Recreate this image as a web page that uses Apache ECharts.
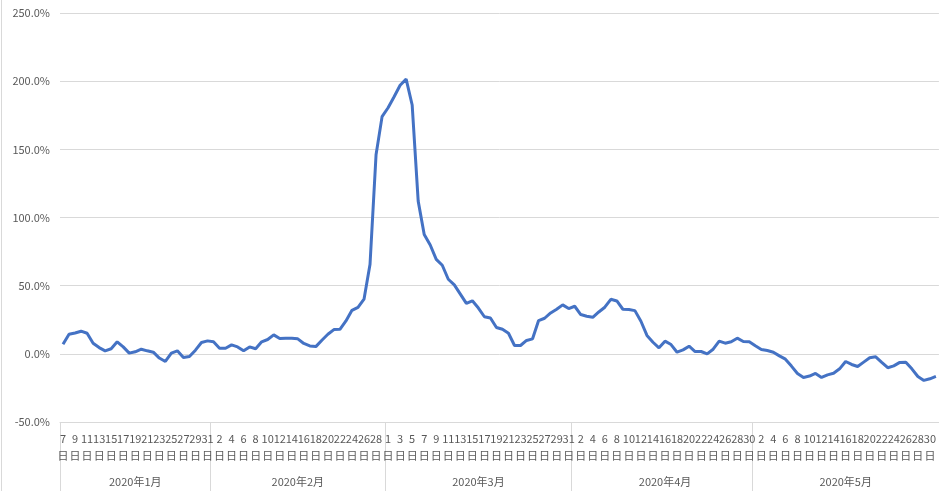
<!DOCTYPE html>
<html>
<head>
<meta charset="utf-8">
<title>增长率</title>
<script src="https://cdn.jsdelivr.net/npm/echarts@6/dist/echarts.min.js"></script>
<style>
  html, body { margin: 0; padding: 0; background: #fff; }
  #chart { width: 939px; height: 491px; }
</style>
</head>
<body>
<div id="chart"></div>
<script>
// 月份和每月的起止日
const monthNames = ['2020年1月', '2020年2月', '2020年3月', '2020年4月', '2020年5月']
const monthFirstDay = [7, 1, 1, 1, 1]
const monthLastDay = [31, 29, 31, 30, 31]

// 每日数值 (%)
const janValues = [7.1, 14.4, 15.3, 16.6, 15.1, 7.8, 4.6, 2.2, 3.7, 8.8, 5.1, 0.5, 1.5, 3.4, 2.2, 1.2, -3.1, -5.6, 0.5, 2.2, -2.7, -2.0, 2.7, 8.3, 9.5]
const febValues = [8.8, 4.1, 4.1, 6.6, 5.1, 2.2, 5.1, 3.7, 8.8, 10.5, 13.9, 11.2, 11.5, 11.5, 11.0, 7.6, 5.8, 5.3, 10.0, 14.4, 17.8, 18.0, 24.1, 31.9, 34.1, 40.1, 65.7, 146, 174]
const marValues = [180.5, 188.6, 197, 201.5, 182.5, 112, 87.6, 79.8, 69.3, 65, 54.7, 50.6, 43.8, 37, 38.9, 33.6, 27.2, 26.3, 19.3, 18, 15.1, 6.1, 6.1, 9.8, 11, 24.4, 26.1, 30, 32.7, 35.9, 33.2]
const aprValues = [34.9, 28.8, 27.6, 26.8, 30.7, 34.2, 40, 38.8, 32.7, 32.5, 31.7, 23.9, 13.5, 8.5, 4.4, 9.3, 6.8, 1.2, 2.9, 5.6, 1.7, 1.7, 0, 3.4, 9.3, 7.8, 8.8, 11.5, 9, 8.8]
const mayValues = [5.9, 3.2, 2.4, 1.2, -1.5, -3.9, -9, -14.4, -17.3, -16.3, -14.4, -17.3, -15.4, -14.2, -11, -5.6, -7.8, -9.3, -6.1, -2.9, -2.2, -6.3, -10.2, -8.8, -6.3, -6.1, -11, -16.6, -19.5, -18.3, -16.6]

// y 轴刻度
const yMin = -50
const yMax = 250
const yStep = 50

const values = [].concat(janValues, febValues, marValues, aprValues, mayValues)

// 日标签 + 所属月份
const dayLabels = []
const dayMonths = []
const monthStartIdx = []
const monthMidIdx = []
monthNames.forEach((name, m) => {
  monthStartIdx.push(dayLabels.length)
  const count = monthLastDay[m] - monthFirstDay[m] + 1
  monthMidIdx.push(dayLabels.length + Math.floor(count / 2))
  for (let d = monthFirstDay[m]; d <= monthLastDay[m]; d++) {
    dayLabels.push(d + '\n日')
    dayMonths.push(name)
  }
})

const textColor = '#595959'
const lineColor = '#d9d9d9'
const fontFamily = '"Noto Sans CJK SC", "Noto Sans", sans-serif'

const chart = echarts.init(document.getElementById('chart'))
const option = {
  animation: false,
  graphic: [{
    type: 'line',
    shape: { x1: 1.5, y1: 0, x2: 1.5, y2: 491 },
    style: { stroke: lineColor, lineWidth: 1 }
  }],
  grid: [
    { left: 60, right: 0, top: 13, bottom: 69 },
    { left: 60, right: 0, top: 13, bottom: 69 }
  ],
  xAxis: [
    {
      // 日 + 月份分隔线
      type: 'category',
      gridIndex: 0,
      data: dayLabels,
      boundaryGap: true,
      axisLine: { onZero: false, lineStyle: { color: lineColor } },
      axisTick: {
        show: true,
        inside: false,
        length: 69,
        interval: (idx) => monthStartIdx.indexOf(idx) >= 0,
        lineStyle: { color: lineColor }
      },
      axisLabel: {
        interval: 1,
        color: textColor,
        fontSize: 11,
        lineHeight: 17,
        margin: 8,
        fontFamily: fontFamily
      }
    },
    {
      // 月份
      type: 'category',
      gridIndex: 1,
      data: dayMonths,
      boundaryGap: true,
      axisLine: { show: false, onZero: false },
      axisTick: { show: false },
      axisLabel: {
        interval: (idx) => monthMidIdx.indexOf(idx) >= 0,
        color: textColor,
        fontSize: 11,
        margin: 54,
        fontFamily: fontFamily
      }
    }
  ],
  yAxis: [
    {
      type: 'value',
      gridIndex: 0,
      min: yMin,
      max: yMax,
      interval: yStep,
      axisLine: { show: false },
      axisTick: { show: false },
      splitLine: { lineStyle: { color: lineColor } },
      axisLabel: {
        formatter: (v) => v.toFixed(1) + '%',
        color: textColor,
        fontSize: 11,
        margin: 10,
        fontFamily: fontFamily
      }
    },
    { type: 'value', gridIndex: 1, show: false, min: yMin, max: yMax }
  ],
  series: [
    {
      type: 'line',
      xAxisIndex: 0,
      yAxisIndex: 0,
      data: values,
      showSymbol: false,
      smooth: false,
      lineStyle: { color: '#4472C4', width: 3 },
      itemStyle: { color: '#4472C4' }
    }
  ]
}
chart.setOption(option)
</script>
</body>
</html>
